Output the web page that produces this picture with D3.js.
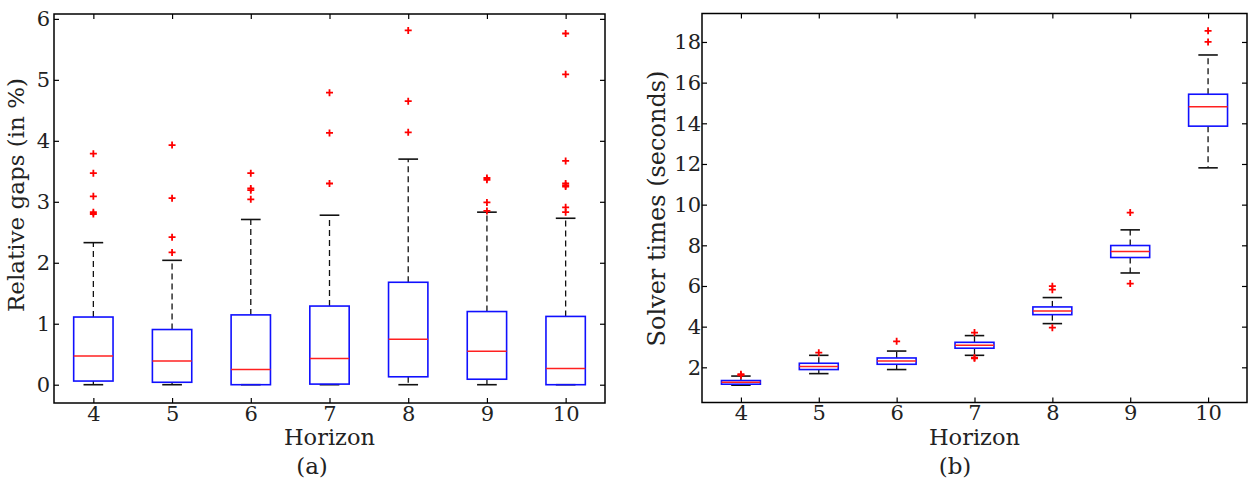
<!DOCTYPE html>
<html>
<head>
<meta charset="utf-8">
<script src="https://cdn.jsdelivr.net/npm/d3@7/dist/d3.min.js"></script>
<style>
  html, body { margin: 0; padding: 0; background: #fff; }
  svg { display: block; }
  text { font-family: "DejaVu Serif", serif; fill: #222; }
</style>
</head>
<body>
<svg id="chart" width="1260" height="485"></svg>
<script>
// ---------- data ----------
const horizons = [4, 5, 6, 7, 8, 9, 10];

// (a) relative gaps (in %)
const gapLow     = [0.00, 0.00, 0.00, 0.00, 0.00, 0.00, 0.00];
const gapQ1      = [0.06, 0.04, 0.00, 0.01, 0.13, 0.09, 0.00];
const gapMedian  = [0.47, 0.39, 0.25, 0.43, 0.745, 0.55, 0.265];
const gapQ3      = [1.11, 0.905, 1.145, 1.29, 1.68, 1.20, 1.12];
const gapHigh    = [2.33, 2.04, 2.71, 2.78, 3.70, 2.83, 2.73];
const gapOutliers = [
  [3.79, 3.47, 3.09, 2.83, 2.80],
  [3.93, 3.06, 2.42, 2.17],
  [3.47, 3.22, 3.19, 3.04],
  [4.79, 4.13, 3.30],
  [5.81, 4.65, 4.14],
  [3.39, 3.36, 2.99, 2.85],
  [5.76, 5.09, 3.67, 3.30, 3.27, 3.25, 2.91, 2.83]
];

// (b) solver times (seconds)
const timeLow    = [1.12, 1.69, 1.89, 2.59, 4.15, 6.64, 11.81];
const timeQ1     = [1.17, 1.89, 2.15, 2.94, 4.59, 7.40, 13.86];
const timeMedian = [1.26, 2.04, 2.31, 3.08, 4.77, 7.69, 14.81];
const timeQ3     = [1.35, 2.20, 2.46, 3.23, 4.97, 7.99, 15.43];
const timeHigh   = [1.57, 2.59, 2.80, 3.56, 5.43, 8.76, 17.36];
const timeOutliers = [
  [1.66, 1.61],
  [2.72],
  [3.28],
  [3.71, 2.47, 2.44],
  [5.99, 5.82, 3.95],
  [9.61, 6.12],
  [18.55, 18.00]
];

const gapTicks  = [0, 1, 2, 3, 4, 5, 6];
const timeTicks = [2, 4, 6, 8, 10, 12, 14, 16, 18];

// ---------- drawing ----------
const svg = d3.select("#chart");

function panel(opts) {
  const { left, right, top, bottom, yDomain, yTicks, yLabel, caption, captionX,
          low, q1, med, q3, high, outliers, yPad, yLabelX, yLabelY, yLabelSize } = opts;
  const x = d3.scaleLinear().domain([3.5, 10.5]).range([left, right]);
  const y = d3.scaleLinear().domain(yDomain).range([bottom, top]);
  const g = svg.append("g");

  const tickStyle = sel => {
    sel.select(".domain").remove();
    sel.selectAll(".tick line").attr("stroke", "#000").attr("stroke-width", 1.2);
    sel.selectAll(".tick text").style("font-family", "DejaVu Serif").style("font-size", "21px").attr("fill", "#222");
  };

  g.append("g").attr("transform", `translate(0,${bottom})`)
    .call(d3.axisBottom(x).tickValues(horizons).tickSizeInner(-5).tickSizeOuter(0).tickPadding(3).tickFormat(d3.format("d")))
    .call(tickStyle);
  g.append("g").attr("transform", `translate(0,${top})`)
    .call(d3.axisTop(x).tickValues(horizons).tickSizeInner(-5).tickSizeOuter(0).tickFormat(""))
    .call(tickStyle);
  g.append("g").attr("transform", `translate(${left},0)`)
    .call(d3.axisLeft(y).tickValues(yTicks).tickSizeInner(-5).tickSizeOuter(0).tickPadding(yPad).tickFormat(d3.format("d")))
    .call(tickStyle);
  g.append("g").attr("transform", `translate(${right},0)`)
    .call(d3.axisRight(y).tickValues(yTicks).tickSizeInner(-5).tickSizeOuter(0).tickFormat(""))
    .call(tickStyle);

  // frame
  g.append("rect").attr("x", left).attr("y", top)
    .attr("width", right - left).attr("height", bottom - top)
    .attr("fill", "none").attr("stroke", "#000").attr("stroke-width", 1.5);

  const bw = x(4.25) - x(4);   // box half width
  const cw = x(4.125) - x(4);  // cap half width

  horizons.forEach((h, i) => {
    const cx = x(h);
    // whiskers
    g.append("line").attr("x1", cx).attr("x2", cx).attr("y1", y(q3[i])).attr("y2", y(high[i]))
      .attr("stroke", "#111").attr("stroke-width", 1.3).attr("stroke-dasharray", "6,4");
    g.append("line").attr("x1", cx).attr("x2", cx).attr("y1", y(q1[i])).attr("y2", y(low[i]))
      .attr("stroke", "#111").attr("stroke-width", 1.3).attr("stroke-dasharray", "6,4");
    // caps
    [high[i], low[i]].forEach(v => {
      g.append("line").attr("x1", cx - cw).attr("x2", cx + cw).attr("y1", y(v)).attr("y2", y(v))
        .attr("stroke", "#111").attr("stroke-width", 1.6);
    });
    // box
    g.append("rect").attr("x", cx - bw).attr("width", 2 * bw)
      .attr("y", y(q3[i])).attr("height", Math.max(0.5, y(q1[i]) - y(q3[i])))
      .attr("fill", "none").attr("stroke", "#1010ff").attr("stroke-width", 1.6);
    // median
    g.append("line").attr("x1", cx - bw).attr("x2", cx + bw).attr("y1", y(med[i])).attr("y2", y(med[i]))
      .attr("stroke", "#ff2020").attr("stroke-width", 1.5);
    // outliers
    outliers[i].forEach(v => {
      const py = y(v);
      g.append("path").attr("d", `M${cx - 3.5},${py}H${cx + 3.5}M${cx},${py - 3.5}V${py + 3.5}`)
        .attr("stroke", "#ff0000").attr("stroke-width", 1.8).attr("fill", "none");
    });
  });

  const midX = (left + right) / 2;
  g.append("text").attr("x", midX).attr("y", 445).attr("text-anchor", "middle")
    .style("font-size", "22.5px").text("Horizon");
  g.append("text").attr("x", captionX).attr("y", 474).attr("text-anchor", "middle")
    .style("font-size", "23px").text(caption);
  g.append("text")
    .attr("transform", `translate(${yLabelX},${yLabelY}) rotate(-90)`)
    .attr("text-anchor", "middle").attr("dy", "0.33em")
    .style("font-size", yLabelSize).text(yLabel);
}

panel({
  left: 54, right: 605, top: 14, bottom: 403,
  yDomain: [-0.3, 6.08], yTicks: gapTicks, yPad: 4, yLabelX: 16, yLabelY: 195, yLabelSize: "23px",
  yLabel: "Relative gaps (in %)", caption: "(a)", captionX: 312,
  low: gapLow, q1: gapQ1, med: gapMedian, q3: gapQ3, high: gapHigh, outliers: gapOutliers
});

panel({
  left: 702, right: 1247, top: 13.5, bottom: 402.5,
  yDomain: [0.27, 19.4], yTicks: timeTicks, yPad: 1, yLabelX: 657, yLabelY: 208.5, yLabelSize: "24px",
  yLabel: "Solver times (seconds)", caption: "(b)", captionX: 955,
  low: timeLow, q1: timeQ1, med: timeMedian, q3: timeQ3, high: timeHigh, outliers: timeOutliers
});
</script>
</body>
</html>
